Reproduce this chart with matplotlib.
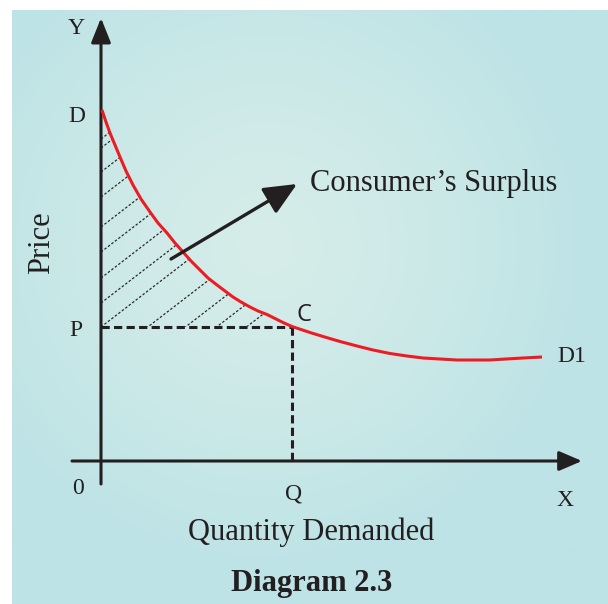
import numpy as np
import matplotlib
matplotlib.use("Agg")
import matplotlib.pyplot as plt
from matplotlib.patches import Polygon

# demand curve D-D1 (origin at 0, y up)
curve_x = [1, 5, 9, 14, 19, 25, 32, 40, 49, 57, 66, 74, 82, 90, 99, 107, 116, 124, 132,
           140, 149, 157, 166, 174, 182, 191,
           200, 209, 222, 239, 256, 272, 289, 306, 322, 339, 356, 372, 389, 405, 422, 441]
curve_y = [351, 339, 328, 316, 304, 290, 276, 262, 249, 238, 228, 218, 209, 200, 191, 183, 176, 170, 164,
           159, 154, 150, 146.5, 142.5, 138.5, 134.5,
           131.5, 128.5, 124.5, 119.5, 115, 111, 107.5, 105, 103, 102, 101, 101, 101, 102, 103, 104]

price_p = 134      # level of P
quantity_q = 191   # level of Q

# hatch lines of the surplus area: intercepts on the price axis
hatch_b = [322, 313, 289, 264, 234, 209, 183, 158, 134, 98, 69, 45, 22]

# point labels: text, x, y
point_labels = [("Y", -25, 433), ("D", -24, 345), ("P", -25, 131), ("0", -23, -27),
                ("Q", 193, -33), ("X", 464, -39), ("D1", 471, 105)]

ink = "#231f20"
red = "#ed1c24"
serif = "Liberation Serif"

fig = plt.figure(figsize=(6.08, 6.04), dpi=100)
ax = fig.add_axes([0, 0, 1, 1])
ax.set_xlim(-101, 507)
ax.set_ylim(-143, 461)
ax.axis("off")

# light blue panel with a soft lighter centre
x0, x1, y0, y1 = -89, 507, -143, 451
gx, gy = np.meshgrid(np.linspace(x0, x1, 300), np.linspace(y0, y1, 300))
r = np.sqrt((gx - 165) ** 2 + (gy - 215) ** 2) / 330.0
t = np.clip(r, 0, 1) ** 1.3
centre = np.array([0xd6, 0xed, 0xe9]) / 255
edge = np.array([0xbd, 0xe3, 0xe6]) / 255
img = centre[None, None, :] * (1 - t[..., None]) + edge[None, None, :] * t[..., None]
ax.imshow(img, extent=[x0, x1, y0, y1], origin="lower", zorder=0, aspect="auto")

# shaded consumer's surplus area: dashed hatch clipped to the region
n_c = curve_x.index(quantity_q) + 1
poly_pts = [(0, price_p), (0, curve_y[0])] + list(zip(curve_x[:n_c], curve_y[:n_c]))
region = Polygon(poly_pts, closed=True, facecolor="none", edgecolor="none")
ax.add_patch(region)
hx = np.array([0, 260])
for b in hatch_b:
    ln, = ax.plot(hx, 0.77 * hx + b, color="#2a2a2a", lw=0.9, ls=(0, (2, 1.5)), zorder=2)
    ln.set_clip_path(region)

# axes with arrow heads
ax.annotate("", xy=(0, 443), xytext=(0, -23),
            arrowprops=dict(arrowstyle="-|>,head_length=0.75,head_width=0.3", lw=2.2,
                            color=ink, shrinkA=0, shrinkB=0, mutation_scale=20), zorder=3)
ax.annotate("", xy=(481, 0), xytext=(-29, 0),
            arrowprops=dict(arrowstyle="-|>,head_length=0.7,head_width=0.3", lw=2.2,
                            color=ink, shrinkA=0, shrinkB=0, mutation_scale=20), zorder=3)

# price and quantity guide lines
ax.plot([0, quantity_q], [price_p, price_p], color=ink, lw=2.2, ls=(0, (2.7, 1.4)), zorder=3)
ax.plot([quantity_q, quantity_q], [price_p, 0], color=ink, lw=2.2, ls=(0, (2.7, 1.4)), zorder=3)

# demand curve
ax.plot(curve_x, curve_y, color=red, lw=2.2, solid_capstyle="butt",
        solid_joinstyle="round", zorder=4)

# arrow to the label
ax.annotate("", xy=(196, 277), xytext=(70, 202),
            arrowprops=dict(arrowstyle="-|>,head_length=1.0,head_width=0.45", lw=2.4,
                            color=ink, shrinkA=0, shrinkB=0, mutation_scale=20), zorder=5)
ax.text(209, 277, "Consumer’s Surplus", fontsize=22, family=serif, color=ink,
        ha="left", va="center")

for txt, x, y in point_labels:
    ax.text(x, y, txt, fontsize=17, family=serif, color=ink, ha="center", va="center")
ax.text(203, 146, "C", fontsize=17, family="Open Sans", color=ink, ha="center", va="center")

ax.text(-59, 218, "Price", fontsize=22, family=serif, color=ink, rotation=90,
        ha="center", va="center")
ax.text(210, -71, "Quantity Demanded", fontsize=22, family=serif, color=ink,
        ha="center", va="center")
ax.text(211, -122, "Diagram 2.3", fontsize=22, family=serif, weight="bold", color=ink,
        ha="center", va="center")

fig.savefig("out.png", dpi=100, facecolor="white")
